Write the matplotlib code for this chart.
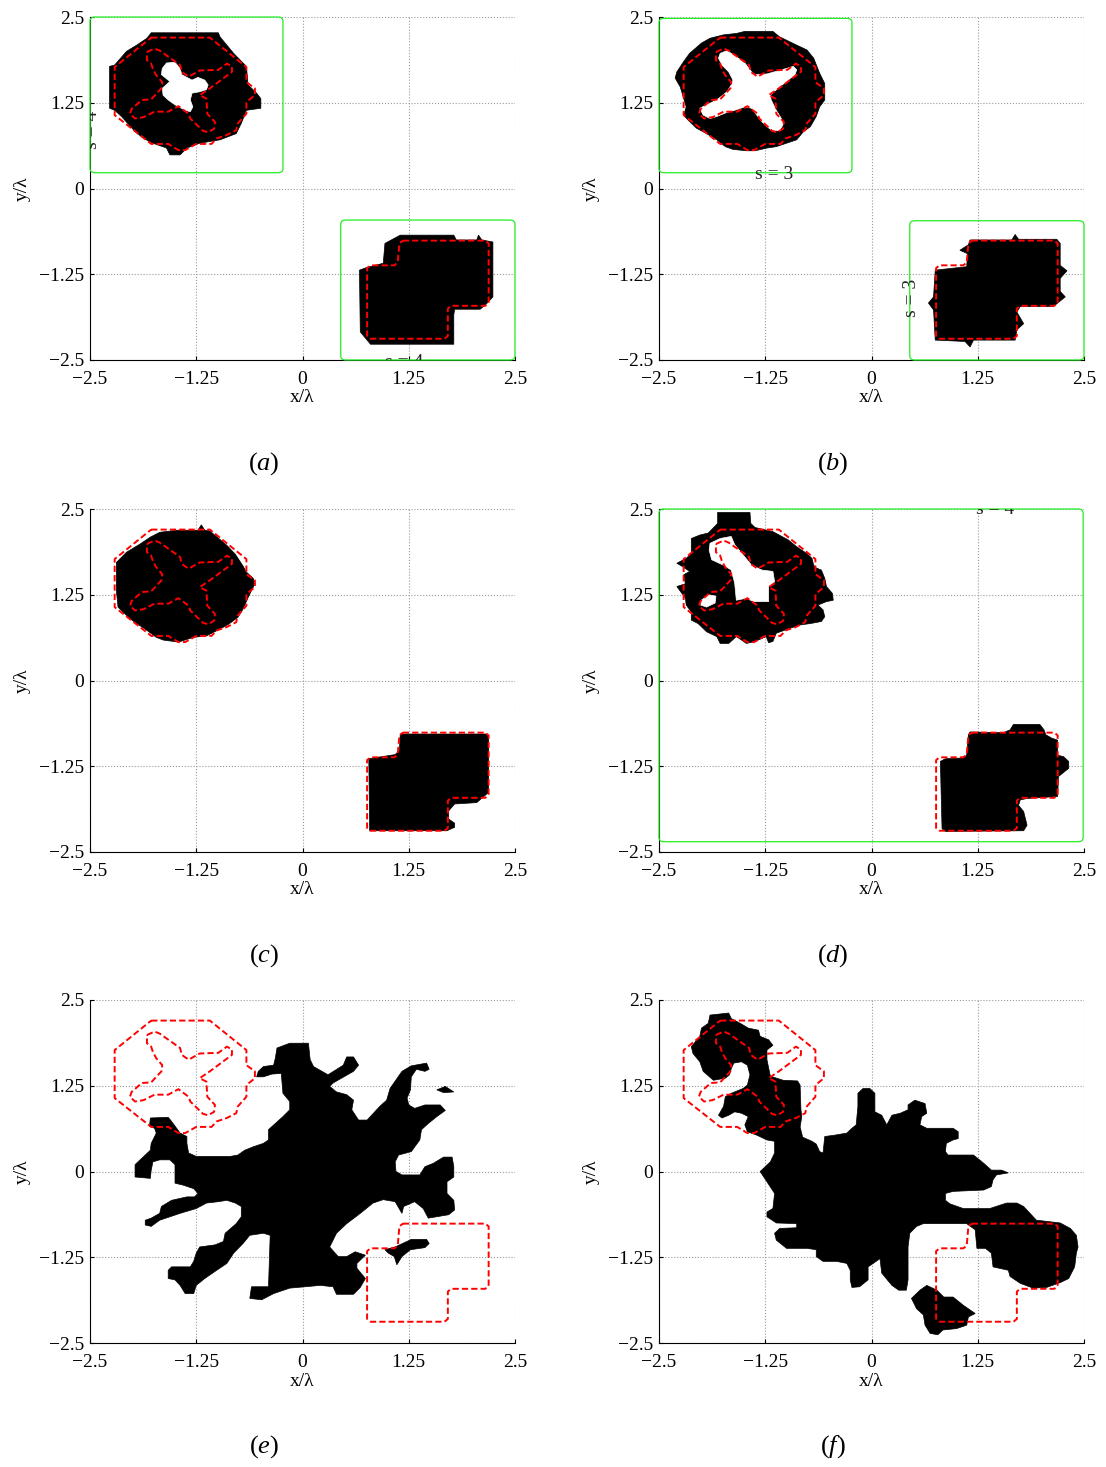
import numpy as np
import matplotlib.pyplot as plt
from matplotlib.patches import Polygon, FancyBboxPatch

plt.rcParams['font.family'] = 'serif'
plt.rcParams['font.serif'] = ['Liberation Serif', 'DejaVu Serif']
plt.rcParams['mathtext.fontset'] = 'custom'
plt.rcParams['mathtext.rm'] = 'Liberation Serif'
plt.rcParams['mathtext.it'] = 'Liberation Serif:italic'

"""## Data"""

ticks = [-2.5, -1.25, 0, 1.25, 2.5]
tick_labels = ['\u22122.5', '\u22121.25', '0', '1.25', '2.5']
captions = ['a', 'b', 'c', 'd', 'e', 'f']

# true scatterer outlines (red dashed)
true_oct = np.array([(-1.78, 2.20), (-1.09, 2.20), (-0.66, 1.77), (-0.66, 1.55), (-0.56, 1.46),
                     (-0.56, 1.36), (-0.66, 1.26), (-0.66, 1.09), (-0.76, 0.95), (-0.78, 0.85),
                     (-0.89, 0.78), (-1.01, 0.73), (-1.07, 0.65), (-1.25, 0.65), (-1.38, 0.56),
                     (-1.46, 0.56), (-1.58, 0.65), (-1.78, 0.65), (-2.21, 1.07), (-2.21, 1.77)])
true_cross = np.array([(-1.83, 1.99), (-1.74, 2.04), (-1.68, 2.01), (-1.44, 1.80), (-1.42, 1.70),
                       (-1.34, 1.63), (-1.21, 1.72), (-0.99, 1.73), (-0.89, 1.82), (-0.83, 1.78),
                       (-0.83, 1.70), (-1.09, 1.46), (-1.21, 1.36), (-1.13, 1.31), (-1.12, 1.09),
                       (-1.03, 0.97), (-1.04, 0.87), (-1.11, 0.82), (-1.17, 0.84), (-1.32, 1.02),
                       (-1.34, 1.09), (-1.46, 1.20), (-1.58, 1.12), (-1.74, 1.12), (-1.87, 1.04),
                       (-1.97, 1.02), (-2.03, 1.09), (-2.01, 1.16), (-1.89, 1.29), (-1.78, 1.30),
                       (-1.66, 1.46), (-1.65, 1.55), (-1.72, 1.65), (-1.76, 1.74), (-1.78, 1.82),
                       (-1.83, 1.87)])
true_l = np.array([(1.18, -0.76), (2.15, -0.76), (2.19, -0.80), (2.19, -1.67), (2.15, -1.71),
                   (1.75, -1.71), (1.71, -1.75), (1.71, -2.15), (1.67, -2.19), (0.80, -2.19),
                   (0.76, -2.15), (0.76, -1.16), (0.80, -1.12), (1.08, -1.12), (1.12, -1.08),
                   (1.14, -0.80)])

# reconstructions (black regions) and holes (white)
blob_a_oct = np.array([(-1.78, 2.27), (-0.99, 2.27), (-0.97, 2.21), (-0.81, 1.97), (-0.66, 1.78),
                       (-0.64, 1.51), (-0.54, 1.39), (-0.49, 1.31), (-0.49, 1.17), (-0.66, 1.14),
                       (-0.72, 0.95), (-0.78, 0.80), (-0.97, 0.71), (-1.21, 0.66), (-1.36, 0.59),
                       (-1.44, 0.49), (-1.56, 0.49), (-1.60, 0.59), (-1.76, 0.66), (-1.87, 0.73),
                       (-1.97, 0.83), (-2.13, 1.05), (-2.21, 1.14), (-2.27, 1.17), (-2.27, 1.78),
                       (-2.21, 1.80), (-2.07, 2.00), (-1.95, 2.09), (-1.83, 2.19)])
hole_a = np.array([(-1.65, 1.75), (-1.60, 1.83), (-1.50, 1.84), (-1.44, 1.75), (-1.42, 1.66),
                   (-1.30, 1.58), (-1.23, 1.62), (-1.15, 1.58), (-1.11, 1.51), (-1.13, 1.44),
                   (-1.21, 1.41), (-1.30, 1.39), (-1.32, 1.29), (-1.29, 1.19), (-1.32, 1.12),
                   (-1.38, 1.14), (-1.50, 1.22), (-1.58, 1.29), (-1.64, 1.36), (-1.65, 1.46),
                   (-1.56, 1.56), (-1.66, 1.66)])
blob_a_l = np.array([(1.15, -0.68), (1.78, -0.68), (1.81, -0.75), (2.05, -0.75), (2.07, -0.68),
                     (2.11, -0.75), (2.24, -0.78), (2.24, -1.58), (2.15, -1.70), (2.09, -1.76),
                     (1.79, -1.76), (1.78, -1.84), (1.78, -2.27), (0.80, -2.27), (0.68, -2.09),
                     (0.67, -1.19), (0.76, -1.15), (0.95, -1.09), (0.97, -0.80), (1.03, -0.76)])

blob_b_oct = np.array([(-1.49, 2.29), (-1.16, 2.29), (-1.08, 2.21), (-0.88, 2.09), (-0.76, 2.02),
                       (-0.68, 1.90), (-0.61, 1.68), (-0.55, 1.53), (-0.55, 1.29), (-0.61, 1.19),
                       (-0.65, 1.05), (-0.72, 0.90), (-0.80, 0.83), (-0.88, 0.71), (-1.00, 0.66),
                       (-1.12, 0.61), (-1.23, 0.59), (-1.37, 0.55), (-1.47, 0.55), (-1.63, 0.57),
                       (-1.72, 0.61), (-1.82, 0.71), (-1.94, 0.80), (-2.06, 0.88), (-2.16, 1.00),
                       (-2.21, 1.07), (-2.18, 1.19), (-2.25, 1.48), (-2.31, 1.61), (-2.29, 1.70),
                       (-2.21, 1.85), (-2.14, 1.97), (-2.00, 2.12), (-1.90, 2.19), (-1.74, 2.24),
                       (-1.59, 2.26)])
hole_b = np.array([(-1.78, 1.97), (-1.70, 2.01), (-1.59, 1.92), (-1.49, 1.83), (-1.41, 1.70),
                   (-1.37, 1.66), (-1.23, 1.67), (-1.00, 1.75), (-0.92, 1.78), (-0.88, 1.73),
                   (-0.90, 1.66), (-1.00, 1.56), (-1.12, 1.44), (-1.19, 1.36), (-1.18, 1.29),
                   (-1.12, 1.14), (-1.06, 1.02), (-1.04, 0.93), (-1.08, 0.85), (-1.16, 0.84),
                   (-1.23, 0.90), (-1.31, 1.00), (-1.35, 1.07), (-1.41, 1.17), (-1.49, 1.19),
                   (-1.61, 1.14), (-1.72, 1.10), (-1.82, 1.05), (-1.90, 1.02), (-1.98, 1.07),
                   (-2.02, 1.17), (-1.94, 1.22), (-1.82, 1.29), (-1.70, 1.41), (-1.65, 1.51),
                   (-1.63, 1.58), (-1.68, 1.70), (-1.76, 1.80), (-1.80, 1.90)])
blob_b_l = np.array([(1.16, -0.75), (1.65, -0.75), (1.69, -0.67), (1.73, -0.74), (2.18, -0.74),
                     (2.22, -0.80), (2.22, -1.12), (2.30, -1.20), (2.22, -1.31), (2.22, -1.50),
                     (2.28, -1.58), (2.14, -1.72), (1.75, -1.72), (1.71, -1.80), (1.79, -1.97),
                     (1.71, -2.06), (1.69, -2.21), (1.20, -2.21), (1.16, -2.31), (1.10, -2.23),
                     (0.75, -2.21), (0.73, -1.77), (0.67, -1.67), (0.73, -1.58), (0.75, -1.19),
                     (1.12, -1.14), (1.13, -0.95), (1.04, -0.90), (1.14, -0.82)])

blob_c_oct = np.array([(-1.68, 2.16), (-1.48, 2.19), (-1.23, 2.19), (-1.19, 2.27), (-1.15, 2.19),
                       (-1.09, 2.18), (-0.89, 1.97), (-0.79, 1.84), (-0.70, 1.67), (-0.66, 1.58),
                       (-0.58, 1.49), (-0.56, 1.41), (-0.64, 1.21), (-0.70, 1.04), (-0.76, 0.92),
                       (-0.87, 0.82), (-0.97, 0.75), (-1.13, 0.65), (-1.28, 0.63), (-1.46, 0.56),
                       (-1.64, 0.59), (-1.72, 0.63), (-1.83, 0.73), (-2.03, 0.90), (-2.17, 1.07),
                       (-2.19, 1.31), (-2.19, 1.72), (-2.07, 1.87), (-1.91, 1.99), (-1.79, 2.09)])
blob_c_l = np.array([(1.15, -0.78), (2.17, -0.78), (2.19, -0.83), (2.19, -1.63), (2.05, -1.78),
                     (1.79, -1.80), (1.72, -1.90), (1.72, -2.02), (1.79, -2.08), (1.79, -2.14),
                     (1.70, -2.19), (0.79, -2.19), (0.78, -1.14), (1.09, -1.08), (1.14, -1.02)])

blob_d_oct = np.array([(-1.81, 2.45), (-1.43, 2.45), (-1.42, 2.29), (-1.37, 2.23), (-1.16, 2.17),
                       (-0.98, 2.05), (-0.88, 1.95), (-0.76, 1.85), (-0.70, 1.78), (-0.68, 1.68),
                       (-0.65, 1.64), (-0.59, 1.61), (-0.55, 1.49), (-0.53, 1.37), (-0.46, 1.27),
                       (-0.45, 1.17), (-0.53, 1.15), (-0.63, 1.10), (-0.57, 1.03), (-0.55, 0.93),
                       (-0.59, 0.86), (-0.72, 0.83), (-0.84, 0.81), (-0.96, 0.76), (-1.12, 0.69),
                       (-1.16, 0.57), (-1.21, 0.55), (-1.24, 0.64), (-1.37, 0.57), (-1.47, 0.54),
                       (-1.59, 0.64), (-1.68, 0.54), (-1.78, 0.54), (-1.82, 0.64), (-1.94, 0.71),
                       (-2.04, 0.83), (-2.12, 0.88), (-2.12, 1.00), (-2.18, 1.10), (-2.19, 1.20),
                       (-2.29, 1.37), (-2.19, 1.41), (-2.21, 1.54), (-2.14, 1.59), (-2.21, 1.65),
                       (-2.29, 1.71), (-2.18, 1.78), (-2.12, 1.85), (-2.12, 2.07), (-2.02, 2.12),
                       (-1.92, 2.15), (-1.81, 2.29)])
hole_d1 = np.array([(-1.90, 2.00), (-1.78, 2.07), (-1.65, 2.10), (-1.61, 1.98), (-1.51, 1.83),
                    (-1.41, 1.68), (-1.29, 1.61), (-1.16, 1.59), (-1.14, 1.44), (-1.21, 1.37),
                    (-1.21, 1.15), (-1.39, 1.15), (-1.47, 1.20), (-1.59, 1.17), (-1.61, 1.42),
                    (-1.65, 1.61), (-1.74, 1.68), (-1.88, 1.76), (-1.91, 1.90)])
hole_d2 = np.array([(-2.00, 1.17), (-1.92, 1.25), (-1.83, 1.23), (-1.84, 1.13), (-1.94, 1.07),
                    (-2.01, 1.10)])
blob_d_l = np.array([(1.63, -0.72), (1.67, -0.64), (1.98, -0.64), (2.03, -0.72), (2.05, -0.79),
                     (2.12, -0.84), (2.19, -0.87), (2.19, -1.09), (2.26, -1.11), (2.32, -1.18),
                     (2.32, -1.28), (2.26, -1.34), (2.20, -1.40), (2.19, -1.69), (1.83, -1.72),
                     (1.75, -1.74), (1.73, -1.82), (1.79, -1.91), (1.83, -2.11), (1.79, -2.19),
                     (0.87, -2.20), (0.83, -2.16), (0.81, -1.18), (0.87, -1.14), (1.08, -1.13),
                     (1.12, -1.09), (1.14, -0.79), (1.16, -0.75), (1.55, -0.76)])

blob_e_main = np.array([
    (-0.15, 1.87), (0.07, 1.87), (0.09, 1.63), (0.13, 1.53), (0.30, 1.41), (0.48, 1.55),
    (0.52, 1.67), (0.60, 1.67), (0.66, 1.55), (0.60, 1.46), (0.36, 1.29), (0.32, 1.24),
    (0.40, 1.16), (0.52, 1.12), (0.60, 1.04), (0.58, 0.90), (0.66, 0.75), (0.76, 0.75),
    (0.91, 0.95), (0.99, 1.04), (1.03, 1.21), (1.17, 1.46), (1.28, 1.54), (1.46, 1.58),
    (1.49, 1.49), (1.44, 1.46), (1.34, 1.49), (1.28, 1.38), (1.27, 1.19), (1.23, 1.07),
    (1.25, 0.97), (1.32, 0.92), (1.44, 0.97), (1.62, 0.97), (1.68, 0.89), (1.58, 0.80),
    (1.48, 0.70), (1.40, 0.61), (1.38, 0.46), (1.28, 0.29), (1.13, 0.24), (1.09, 0.14),
    (1.10, 0.00), (1.17, -0.05), (1.38, -0.05), (1.44, 0.07), (1.54, 0.12), (1.66, 0.21),
    (1.76, 0.21), (1.78, 0.07), (1.78, -0.08), (1.70, -0.15), (1.70, -0.32), (1.78, -0.42),
    (1.79, -0.56), (1.72, -0.63), (1.48, -0.68), (1.42, -0.54), (1.32, -0.44), (1.19, -0.51),
    (1.17, -0.61), (1.09, -0.44), (0.95, -0.41), (0.83, -0.46), (0.68, -0.61), (0.52, -0.76),
    (0.40, -0.90), (0.32, -1.10), (0.42, -1.24), (0.52, -1.24), (0.62, -1.17), (0.74, -1.22),
    (0.64, -1.34), (0.64, -1.41), (0.74, -1.56), (0.68, -1.69), (0.60, -1.79), (0.40, -1.79),
    (0.36, -1.68), (0.21, -1.66), (-0.15, -1.70), (-0.34, -1.78), (-0.48, -1.87), (-0.62, -1.85),
    (-0.60, -1.68), (-0.40, -1.68), (-0.38, -0.93), (-0.46, -0.90), (-0.62, -0.93), (-0.70, -1.05),
    (-0.81, -1.19), (-0.89, -1.34), (-1.01, -1.44), (-1.15, -1.56), (-1.25, -1.66), (-1.28, -1.78),
    (-1.38, -1.78), (-1.44, -1.66), (-1.50, -1.58), (-1.58, -1.56), (-1.58, -1.44), (-1.54, -1.39),
    (-1.32, -1.39), (-1.28, -1.31), (-1.25, -1.19), (-1.21, -1.10), (-1.03, -1.07), (-0.93, -1.02),
    (-0.91, -0.90), (-0.78, -0.76), (-0.72, -0.66), (-0.72, -0.51), (-0.79, -0.46), (-0.89, -0.42),
    (-0.99, -0.44), (-1.13, -0.46), (-1.25, -0.54), (-1.44, -0.61), (-1.56, -0.66), (-1.68, -0.71),
    (-1.78, -0.80), (-1.85, -0.78), (-1.85, -0.71), (-1.78, -0.68), (-1.68, -0.61), (-1.66, -0.51),
    (-1.54, -0.42), (-1.36, -0.37), (-1.27, -0.37), (-1.23, -0.32), (-1.28, -0.25), (-1.40, -0.20),
    (-1.50, -0.17), (-1.50, 0.10), (-1.56, 0.17), (-1.68, 0.17), (-1.76, 0.14), (-1.78, 0.02),
    (-1.79, -0.10), (-1.97, -0.08), (-1.97, 0.10), (-1.91, 0.17), (-1.79, 0.31), (-1.78, 0.41),
    (-1.72, 0.56), (-1.74, 0.63), (-1.80, 0.66), (-1.79, 0.78), (-1.58, 0.79), (-1.54, 0.73),
    (-1.44, 0.56), (-1.36, 0.51), (-1.36, 0.41), (-1.34, 0.27), (-1.25, 0.22), (-0.85, 0.22),
    (-0.76, 0.24), (-0.68, 0.31), (-0.58, 0.36), (-0.46, 0.41), (-0.40, 0.46), (-0.40, 0.61),
    (-0.32, 0.70), (-0.23, 0.80), (-0.15, 0.90), (-0.15, 1.02), (-0.23, 1.14), (-0.25, 1.43),
    (-0.36, 1.42), (-0.46, 1.38), (-0.54, 1.38), (-0.52, 1.46), (-0.46, 1.53), (-0.34, 1.55),
    (-0.32, 1.65), (-0.30, 1.80)])
blob_e_small = np.array([(0.97, -1.14), (1.09, -1.10), (1.28, -0.99), (1.46, -0.99), (1.49, -1.05),
                         (1.44, -1.11), (1.27, -1.14), (1.17, -1.24), (1.11, -1.36), (1.08, -1.24),
                         (1.01, -1.19)])
blob_e_sliver = np.array([(1.58, 1.19), (1.68, 1.24), (1.78, 1.16), (1.66, 1.15)])

blob_f_main = np.array([
    (-1.90, 2.28), (-1.68, 2.31), (-1.65, 2.23), (-1.53, 2.15), (-1.45, 2.09), (-1.33, 2.06),
    (-1.31, 1.97), (-1.21, 1.92), (-1.16, 1.84), (-1.23, 1.77), (-1.23, 1.63), (-1.19, 1.39),
    (-1.04, 1.33), (-0.87, 1.32), (-0.84, 1.26), (-0.83, 0.90), (-0.82, 0.80), (-0.84, 0.65),
    (-0.81, 0.50), (-0.70, 0.44), (-0.65, 0.40), (-0.61, 0.29), (-0.57, 0.27), (-0.55, 0.51),
    (-0.43, 0.53), (-0.29, 0.56), (-0.23, 0.63), (-0.18, 0.68), (-0.16, 0.95), (-0.16, 1.14),
    (-0.10, 1.21), (-0.02, 1.21), (0.04, 1.14), (0.04, 0.87), (0.12, 0.82), (0.18, 0.68),
    (0.24, 0.82), (0.34, 0.85), (0.43, 0.90), (0.43, 0.97), (0.51, 1.04), (0.63, 0.99),
    (0.65, 0.85), (0.59, 0.80), (0.57, 0.68), (0.65, 0.63), (0.96, 0.63), (1.02, 0.58),
    (1.02, 0.48), (0.96, 0.46), (0.88, 0.41), (0.87, 0.29), (0.90, 0.24), (1.20, 0.24),
    (1.32, 0.12), (1.41, 0.02), (1.53, 0.02), (1.61, -0.02), (1.47, -0.05), (1.43, -0.12),
    (1.41, -0.22), (1.32, -0.27), (0.96, -0.29), (0.87, -0.32), (0.87, -0.42), (0.92, -0.47),
    (1.08, -0.54), (1.39, -0.54), (1.59, -0.46), (1.71, -0.46), (1.79, -0.51), (1.94, -0.71),
    (2.22, -0.75), (2.34, -0.83), (2.41, -0.93), (2.43, -1.10), (2.41, -1.19), (2.39, -1.39),
    (2.32, -1.56), (2.22, -1.62), (2.06, -1.69), (1.90, -1.70), (1.75, -1.63), (1.63, -1.53),
    (1.61, -1.44), (1.43, -1.39), (1.41, -1.19), (1.34, -1.12), (1.24, -1.12), (1.22, -0.85),
    (1.12, -0.76), (0.61, -0.76), (0.53, -0.80), (0.45, -0.90), (0.43, -1.10), (0.43, -1.58),
    (0.41, -1.73), (0.32, -1.73), (0.24, -1.66), (0.12, -1.48), (0.10, -1.27), (0.02, -1.34),
    (-0.04, -1.39), (-0.04, -1.58), (-0.14, -1.68), (-0.23, -1.69), (-0.25, -1.58), (-0.25, -1.44),
    (-0.29, -1.34), (-0.41, -1.31), (-0.57, -1.31), (-0.65, -1.24), (-0.65, -1.14), (-0.76, -1.12),
    (-1.00, -1.12), (-1.12, -1.00), (-1.14, -0.90), (-1.08, -0.83), (-0.88, -0.82), (-0.88, -0.76),
    (-1.12, -0.75), (-1.23, -0.66), (-1.23, -0.59), (-1.16, -0.54), (-1.14, -0.32), (-1.23, -0.15),
    (-1.31, 0.00), (-1.19, 0.14), (-1.14, 0.27), (-1.14, 0.44), (-1.23, 0.46), (-1.35, 0.53),
    (-1.46, 0.58), (-1.49, 0.68), (-1.45, 0.80), (-1.53, 0.85), (-1.61, 0.87), (-1.68, 0.82),
    (-1.76, 0.78), (-1.80, 0.82), (-1.74, 0.95), (-1.72, 1.09), (-1.65, 1.14), (-1.51, 1.21),
    (-1.46, 1.26), (-1.43, 1.41), (-1.46, 1.55), (-1.53, 1.60), (-1.62, 1.58), (-1.65, 1.50),
    (-1.67, 1.41), (-1.72, 1.36), (-1.86, 1.33), (-1.98, 1.46), (-2.02, 1.60), (-2.10, 1.72),
    (-2.12, 1.82), (-2.02, 1.97), (-2.00, 2.09), (-1.92, 2.16)])
blob_f_small = np.array([(0.47, -1.85), (0.57, -1.73), (0.65, -1.66), (0.77, -1.73), (0.85, -1.83),
                         (0.96, -1.83), (1.08, -1.95), (1.22, -2.07), (1.14, -2.12), (1.12, -2.24),
                         (1.00, -2.29), (0.84, -2.31), (0.78, -2.38), (0.69, -2.36), (0.63, -2.24),
                         (0.61, -2.09), (0.53, -2.00)])

# green regions of interest: x0, y0, x1, y1
boxes_a = [(-2.5, 0.23, -0.23, 2.5), (0.45, -2.5, 2.5, -0.46)]
boxes_b = [(-2.5, 0.23, -0.23, 2.48), (0.45, -2.5, 2.5, -0.47)]
boxes_d = [(-2.5, -2.35, 2.49, 2.5)]

# (x, y, text, rotation)
notes_a = [(-2.47, 0.85, 's = 4', 90), (1.2, -2.53, 's = 4', 0)]
notes_b = [(-1.15, 0.2, 's = 3', 0), (0.47, -1.6, 's = 3', 90)]
notes_d = [(1.46, 2.5, 's = 4', 0)]

panels = [
    ([blob_a_oct, blob_a_l], [hole_a], boxes_a, notes_a),
    ([blob_b_oct, blob_b_l], [hole_b], boxes_b, notes_b),
    ([blob_c_oct, blob_c_l], [], [], []),
    ([blob_d_oct, blob_d_l], [hole_d1, hole_d2], boxes_d, notes_d),
    ([blob_e_main, blob_e_small, blob_e_sliver], [], [], []),
    ([blob_f_main, blob_f_small], [], [], []),
]

"""## Figure"""

W, H = 1106, 1467
fig = plt.figure(figsize=(W / 100, H / 100), dpi=100)

col_left = [90, 659]
row_top = [17, 509, 1000]
ax_w, ax_h = 425, 343

for k, (blobs, holes, boxes, notes) in enumerate(panels):
    r, c = divmod(k, 2)
    ax = fig.add_axes([col_left[c] / W, 1 - (row_top[r] + ax_h) / H, ax_w / W, ax_h / H])
    ax.set_xlim(-2.5, 2.5)
    ax.set_ylim(-2.5, 2.5)

    for p in blobs:
        ax.add_patch(Polygon(p, closed=True, fc='k', ec='k', lw=0.5, zorder=2))
    for h in holes:
        ax.add_patch(Polygon(h, closed=True, fc='w', ec='w', lw=0.5, zorder=2.1))

    for t in [true_oct, true_cross, true_l]:
        tt = np.vstack([t, t[:1]])
        ax.plot(tt[:, 0], tt[:, 1], color='red', ls=(0, (3.2, 1.6)), lw=1.4, zorder=3)

    for (x0, y0, x1, y1) in boxes:
        ax.add_patch(FancyBboxPatch((x0, y0), x1 - x0, y1 - y0,
                                    boxstyle='round,pad=0,rounding_size=0.06',
                                    fc='none', ec='#22ee22', lw=0.9, zorder=4, clip_on=False))
    for (x, y, s, rot) in notes:
        ax.text(x, y, s, rotation=rot, ha='center', va='center', fontsize=14,
                color='#222222', zorder=5, clip_on=True)

    ax.set_xticks(ticks)
    ax.set_yticks(ticks)
    ax.set_xticklabels(tick_labels)
    ax.set_yticklabels(tick_labels)
    ax.tick_params(direction='in', length=3, width=0.8, labelsize=14)
    ax.tick_params(axis='x', pad=8)
    ax.tick_params(axis='y', pad=4)
    ax.grid(True, ls=':', color='#999999', lw=0.8)
    ax.set_axisbelow(True)
    for side in ['top', 'right']:
        ax.spines[side].set_visible(False)
    ax.set_xlabel('x/\u03bb', fontsize=14, labelpad=1)
    ax.set_ylabel('y/\u03bb', fontsize=14, labelpad=6)

    fig.text((col_left[c] + 174) / W, 1 - (row_top[r] + 447) / H,
             r'$(\mathit{' + captions[k] + '})$', ha='center', va='center', fontsize=19)

fig.savefig('out.png', dpi=100)
